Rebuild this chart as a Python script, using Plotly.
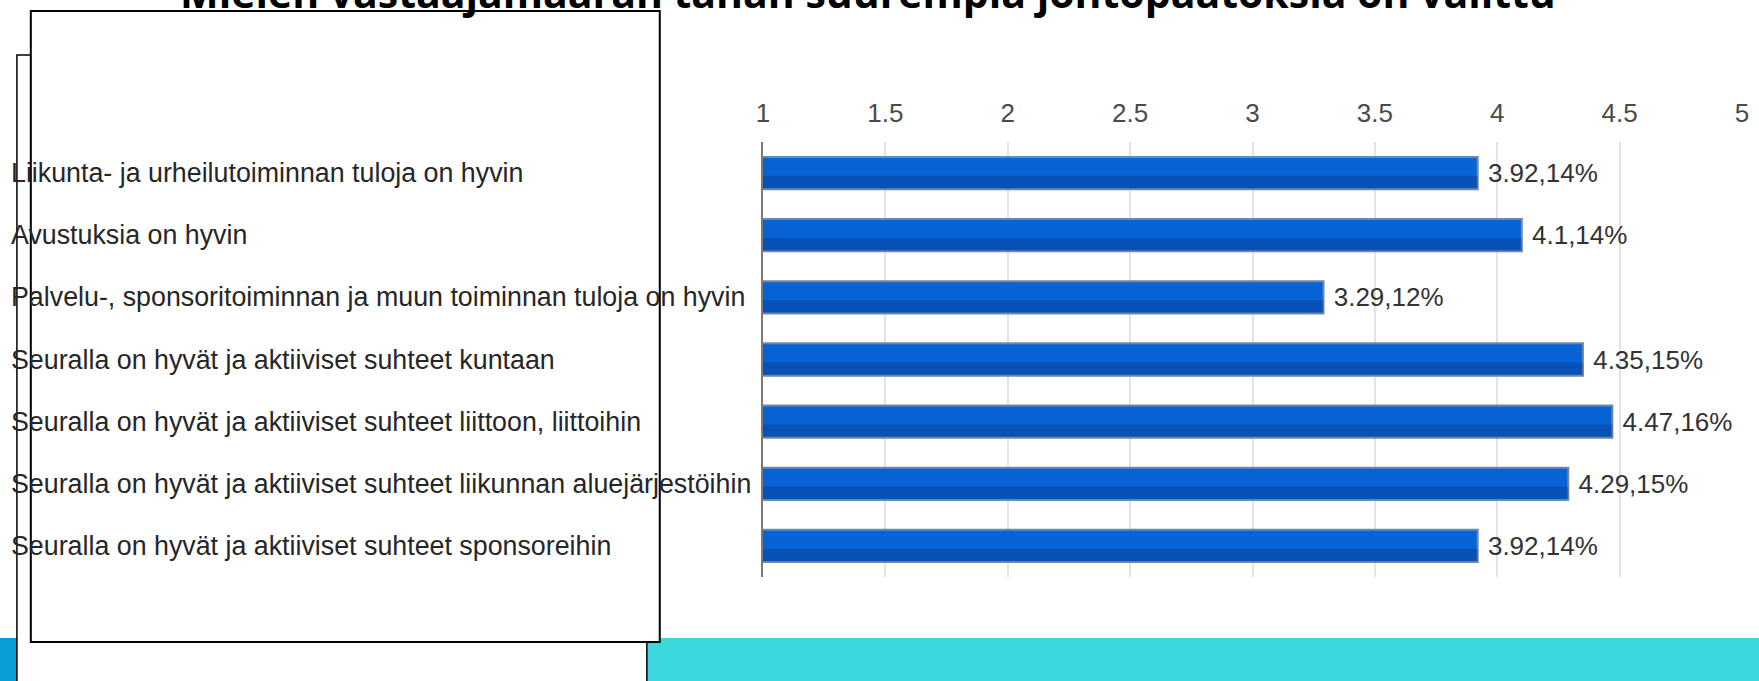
import plotly.graph_objects as go

# ---------------- data ----------------
categories = [
    "Liikunta- ja urheilutoiminnan tuloja on hyvin",
    "Avustuksia on hyvin",
    "Palvelu-, sponsoritoiminnan ja muun toiminnan tuloja on hyvin",
    "Seuralla on hyvät ja aktiiviset suhteet kuntaan",
    "Seuralla on hyvät ja aktiiviset suhteet liittoon, liittoihin",
    "Seuralla on hyvät ja aktiiviset suhteet liikunnan aluejärjestöihin",
    "Seuralla on hyvät ja aktiiviset suhteet sponsoreihin",
]
values = [3.92, 4.1, 3.29, 4.35, 4.47, 4.29, 3.92]
percents = [14, 14, 12, 15, 16, 15, 14]
tick_vals = [1, 1.5, 2, 2.5, 3, 3.5, 4, 4.5, 5]
tick_text = ["1", "1.5", "2", "2.5", "3", "3.5", "4", "4.5", "5"]
title_text = "Mielen vastaajamäärän tähän suurempia johtopäätöksiä on valittu"

# ---------------- helpers ----------------
W, H = 1759, 681


def px(x):
    return x / W


def py(y):
    return 1 - y / H


value_labels = [f" {v},{p}%" for v, p in zip(values, percents)]
FONT = "Liberation Sans, Arial, sans-serif"

fig = go.Figure()
# main bar
fig.add_trace(
    go.Bar(
        y=categories,
        x=values,
        orientation="h",
        width=0.52,
        offset=-0.26,
        marker=dict(color="#0864d6", line=dict(color="#6f88aa", width=2)),
        text=value_labels,
        textposition="outside",
        cliponaxis=False,
        textfont=dict(family=FONT, size=26, color="#333333"),
        outsidetextfont=dict(family=FONT, size=26, color="#333333"),
        hoverinfo="skip",
    )
)
# darker lower shading (gradient look)
fig.add_trace(
    go.Bar(
        y=categories,
        x=values,
        orientation="h",
        width=0.2,
        offset=0.045,
        marker=dict(color="rgba(10,40,110,0.30)", line=dict(width=0)),
        hoverinfo="skip",
    )
)

shapes = [
    # bottom band
    dict(type="rect", xref="paper", yref="paper", x0=-0.01, x1=px(30), y0=py(700), y1=py(638),
         fillcolor="#0a9ed6", line=dict(width=0), layer="below"),
    dict(type="rect", xref="paper", yref="paper", x0=px(30), x1=1.01, y0=py(700), y1=py(638),
         fillcolor="#3dd8de", line=dict(width=0), layer="below"),
    # back box
    dict(type="rect", xref="paper", yref="paper", x0=px(10), x1=px(645), y0=py(720), y1=py(55),
         fillcolor="white", line=dict(color="black", width=1.5), layer="below"),
    # front box
    dict(type="rect", xref="paper", yref="paper", x0=px(24), x1=px(658), y0=py(642), y1=py(11),
         fillcolor="white", line=dict(color="black", width=2), layer="below"),
]

annotations = [
    dict(text=c, x=px(2), xref="paper", xanchor="left", y=c, yref="y", yanchor="middle",
         showarrow=False, font=dict(family=FONT, size=26.8, color="#262626"))
    for c in categories
]
annotations.append(
    dict(text=f"<b>{title_text}</b>", x=px(868), xref="paper", xanchor="center",
         y=py(-8), yref="paper", yanchor="middle", showarrow=False,
         font=dict(family="Open Sans, sans-serif", size=41, color="black"))
)

fig.update_layout(
    width=W,
    height=H,
    margin=dict(l=0, r=0, t=0, b=0),
    paper_bgcolor="white",
    plot_bgcolor="rgba(0,0,0,0)",
    showlegend=False,
    barmode="overlay",
    shapes=shapes,
    annotations=annotations,
    xaxis=dict(
        range=[1, 5],
        domain=[px(762), px(1749)],
        side="top",
        tickvals=tick_vals,
        ticktext=tick_text,
        tickfont=dict(family=FONT, size=26, color="#4a4a4a"),
        ticklabeloverflow="allow",
        ticks="outside",
        ticklen=9,
        tickcolor="rgba(0,0,0,0)",
        showgrid=True,
        gridcolor="#e3e3e3",
        gridwidth=2,
        zeroline=False,
        showline=False,
        fixedrange=True,
    ),
    yaxis=dict(
        domain=[py(577), py(142)],
        autorange="reversed",
        showticklabels=False,
        showgrid=False,
        showline=True,
        linecolor="#7a7a7a",
        linewidth=2,
        ticks="",
        fixedrange=True,
    ),
)

fig.write_html(
    "out.html",
    config={"displayModeBar": False},
    post_script="document.body.style.margin='0px';document.body.style.overflow='hidden';",
)
